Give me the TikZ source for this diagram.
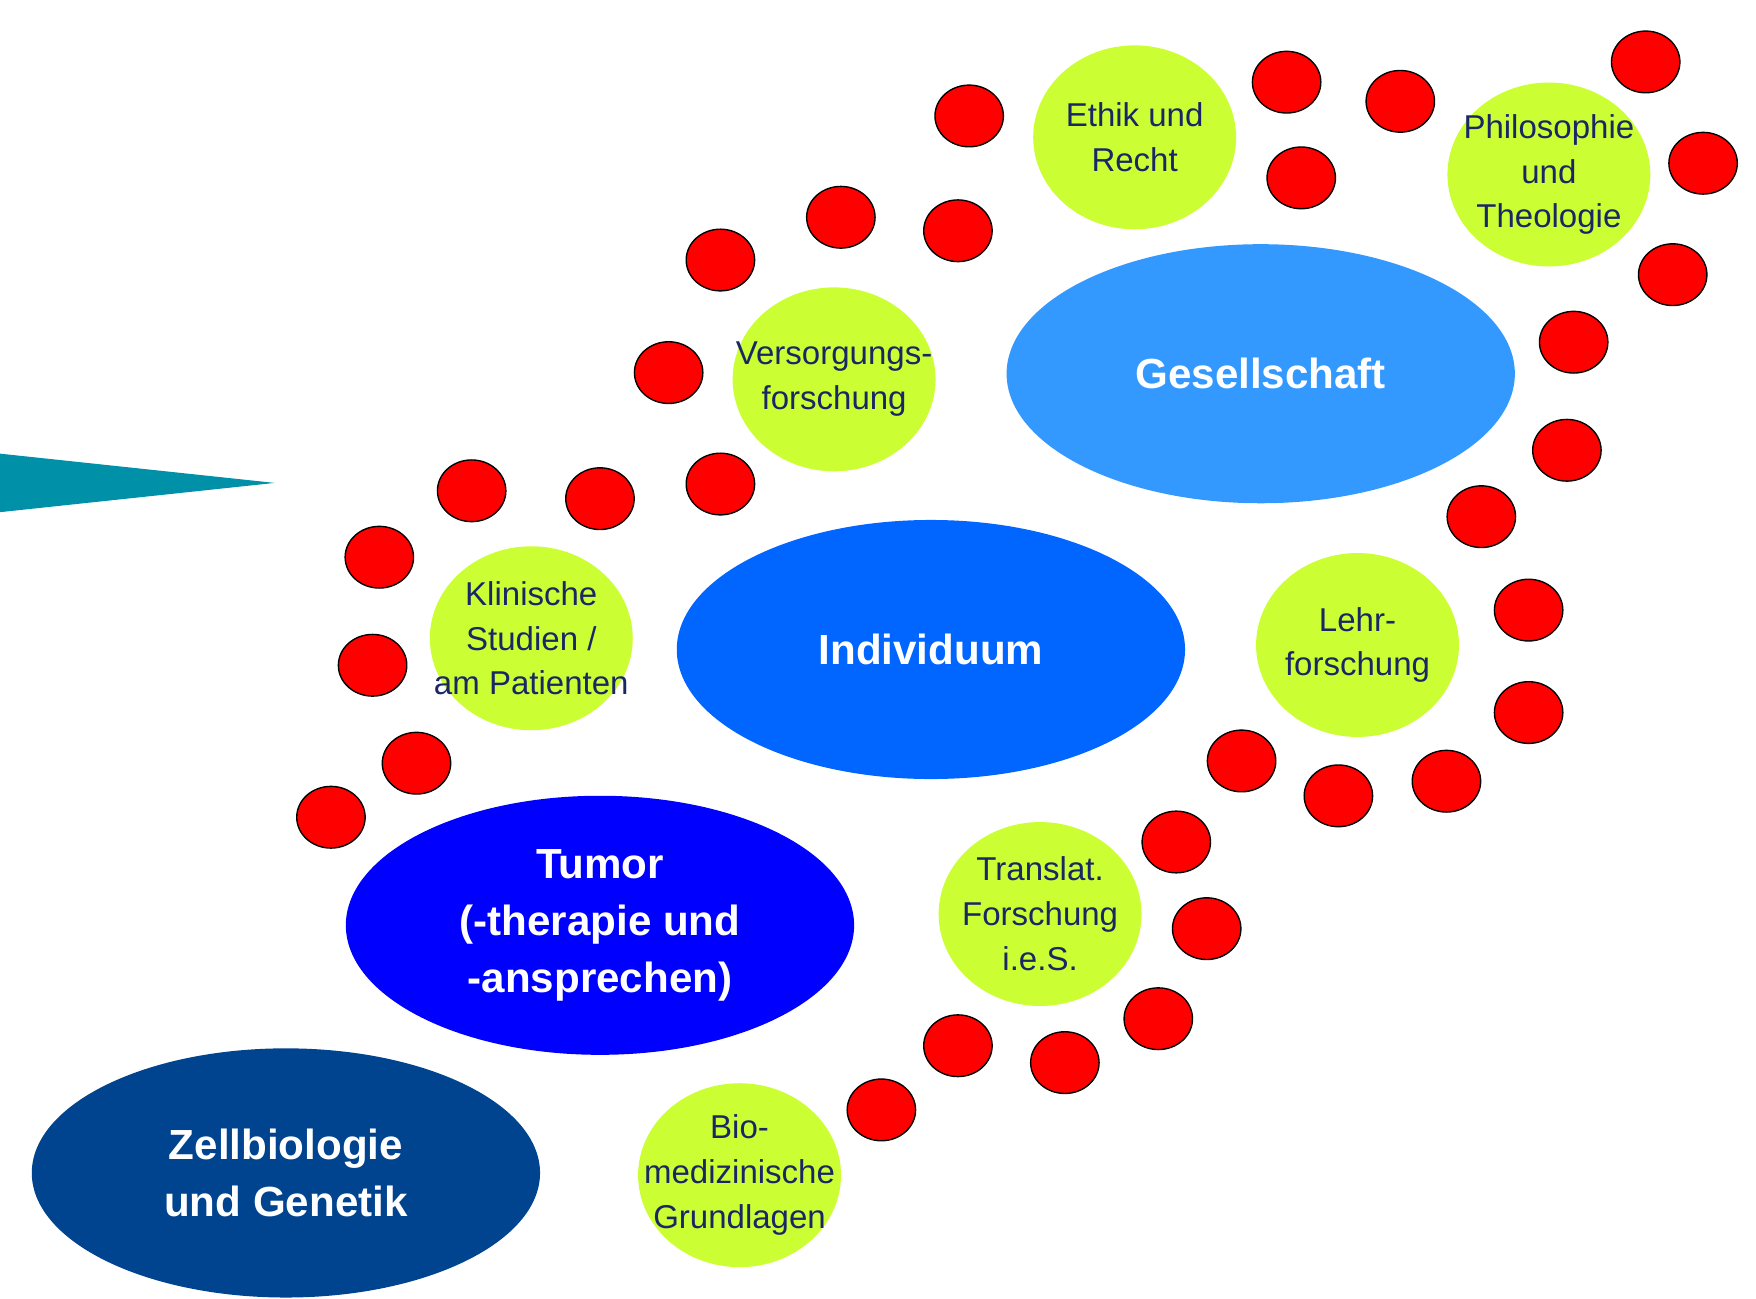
\documentclass[tikz,border=0pt]{standalone}
\usepackage{fontspec}
\setmainfont{Liberation Sans}
\usepackage{xcolor}
\usepackage{tikz}
\usetikzlibrary{shapes}
\definecolor{dotred}{RGB}{255,0,0}
\definecolor{lime}{RGB}{204,255,51}
\definecolor{ink}{RGB}{25,40,100}
\definecolor{skyblue}{RGB}{51,153,255}
\definecolor{midblue}{RGB}{0,102,255}
\definecolor{pureblue}{RGB}{0,0,255}
\definecolor{navyblue}{RGB}{0,68,144}
\definecolor{arrowteal}{RGB}{0,145,168}
\tikzstyle{reddot}=[ellipse,fill=dotred,draw=black,line width=0.7pt,minimum width=34.6pt,minimum height=31.2pt,inner sep=0pt]
\tikzstyle{bubble}=[ellipse,fill=lime,minimum width=102.6pt,minimum height=93pt,inner sep=0pt]
\tikzstyle{bubbletext}=[align=center,text=ink,inner sep=0pt,font=\fontsize{16.7}{22.7}\selectfont]
\tikzstyle{field}=[ellipse,minimum width=257pt,inner sep=0pt]
\tikzstyle{fieldtext}=[align=center,text=white,inner sep=0pt,font=\fontsize{21.3}{28.8}\selectfont\bfseries]

\begin{document}
\begin{tikzpicture}

  \def\u{0.02};

  \useasboundingbox (0,0) rectangle (1560*\u,-1154*\u);

  % teal wedge on the left
  \fill[arrowteal] (0,-403*\u) -- (244*\u,-429*\u) -- (0,-455*\u) -- cycle;

  % blue fields
  \foreach \x/\y/\name/\col/\ht in {1120/332/gesell/skyblue/131, 827/577/indiv/midblue/131,
                                    533/822/tumor/pureblue/131, 254/1042/zell/navyblue/126}
          \node[field, fill=\col, minimum height=\ht pt] (\name) at (\x*\u, -\y*\u) {};
  \foreach \name/\txt in {gesell/Gesellschaft, indiv/Individuum, tumor/{Tumor\\(-therapie und\\-ansprechen)}, zell/{Zellbiologie\\und Genetik}}
          \node[fieldtext] at (\name) {\txt};

  % green bubbles
  \foreach \x/\y/\name in {1008/122/ethik, 1376/155/philo, 741/337/versorg, 472/567/klinik,
                           1206/573/lehr, 924/812/translat, 657/1044/bio}
          \node[bubble] (\name) at (\x*\u, -\y*\u) {};
  \foreach \name/\txt in {ethik/{Ethik und\\Recht}, philo/{Philosophie\\und\\Theologie}, versorg/{Versorgungs-\\forschung},
                          klinik/{Klinische\\Studien /\\am Patienten}, lehr/{Lehr-\\forschung}, translat/{Translat.\\Forschung\\i.e.S.},
                          bio/{Bio-\\medizinische\\Grundlagen}}
          \node[bubbletext] at (\name) {\txt};

  % red dots, upper ring
  \foreach \x/\y/\name in {861/103/d1, 1143/73/d2, 1244/90/d3, 1462/55/d4, 1156/158/d5, 1513/145/d6, 1486/244/d7, 1398/304/d8}
          \node[reddot] (\name) at (\x*\u, -\y*\u) {};

  \foreach \x/\y/\name in {1392/400/d9, 1316/459/d10, 1358/542/d11, 1358/633/d12, 1285/694/d13, 1189/707/d14, 1103/676/d15}
          \node[reddot] (\name) at (\x*\u, -\y*\u) {};

  % red dots, lower ring
  \foreach \x/\y/\name in {1045/748/d16, 1072/825/d17, 1029/905/d18, 946/944/d19, 851/929/d20, 783/986/d21}
          \node[reddot] (\name) at (\x*\u, -\y*\u) {};

  \foreach \x/\y/\name in {747/193/d22, 851/205/d23, 640/231/d24, 594/331/d25, 640/430/d26, 533/443/d27,
                           419/436/d28, 337/495/d29, 331/591/d30, 370/678/d31, 294/726/d32}
          \node[reddot] (\name) at (\x*\u, -\y*\u) {};

\end{tikzpicture}
\end{document}
